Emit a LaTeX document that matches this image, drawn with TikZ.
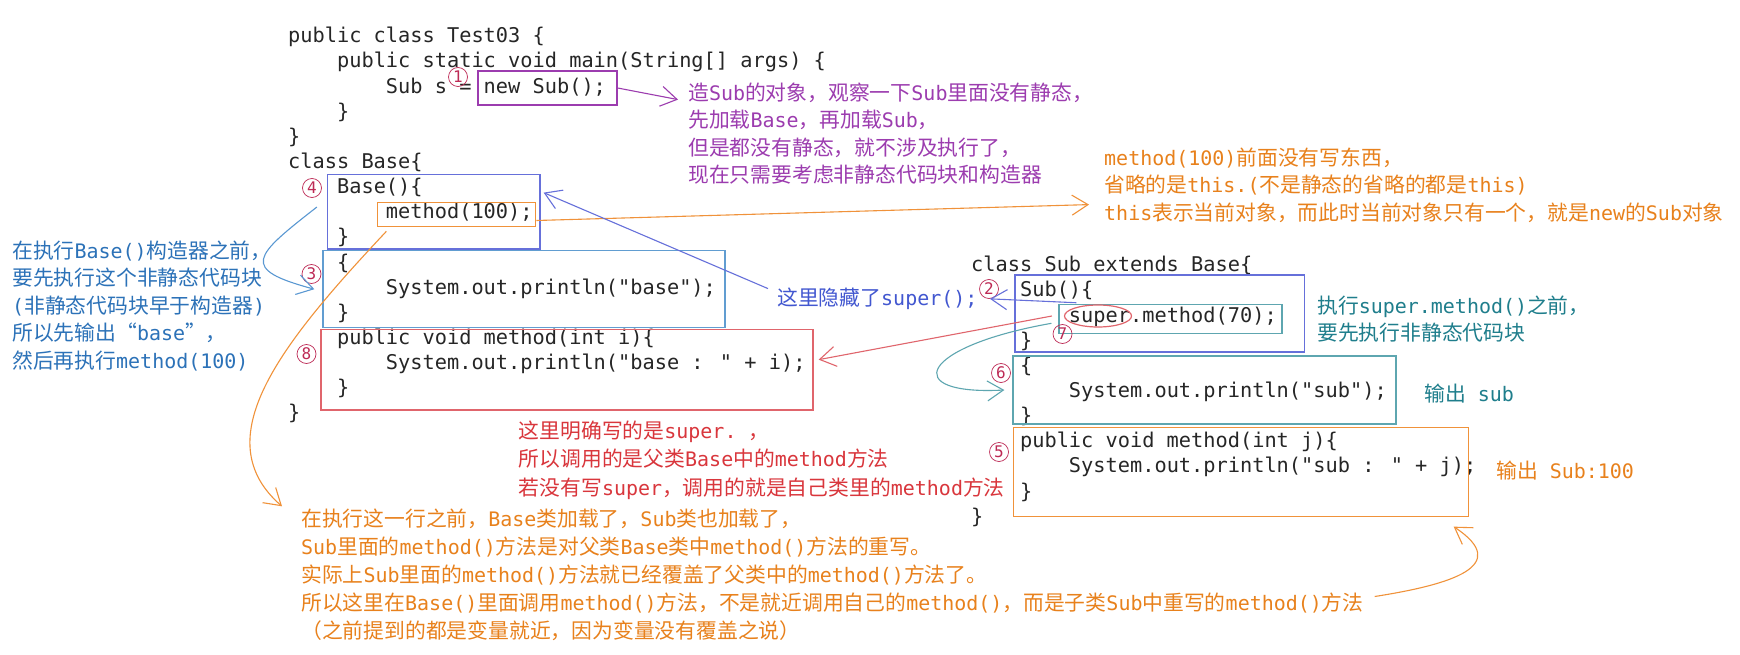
\documentclass[tikz,border=0pt]{standalone}
\usepackage{fontspec}
\usepackage{xcolor}
\usepackage{tikz}
\usetikzlibrary{arrows.meta,shapes.geometric,fit}
\newfontfamily\codefont{DejaVu Sans Mono}
\newfontfamily\latfont{DejaVu Sans Mono}[Scale=0.96]
\newfontfamily\zhfont{Noto Sans CJK SC}
\definecolor{codeink}{HTML}{262626}
\definecolor{purp}{HTML}{9C3CAF}
\definecolor{ctorblue}{HTML}{6670DA}
\definecolor{hidblue}{HTML}{4257D0}
\definecolor{stlblue}{HTML}{619DD1}
\definecolor{leftblue}{HTML}{2C72B8}
\definecolor{leftline}{HTML}{5A98D2}
\definecolor{orng}{HTML}{F0923A}
\definecolor{orngtext}{HTML}{E8811C}
\definecolor{redline}{HTML}{E0656C}
\definecolor{redtext}{HTML}{D9363C}
\definecolor{tealline}{HTML}{5EA6B0}
\definecolor{tealtext}{HTML}{1F7E8C}
\definecolor{numred}{HTML}{BD2A55}
\newcommand{\ind}{\phantom{0000}}
\newcommand{\kw}[1]{{\latfont #1}}
\tikzset{
  code/.style={anchor=north west,inner sep=0pt,align=left,text=codeink,
               font=\codefont\fontsize{20.3}{25.15}\selectfont},
  remark/.style={anchor=north west,inner sep=0pt,align=left,
                 font=\zhfont\fontsize{20.8}{27.5}\selectfont},
  codebox/.style={draw=#1,line width=1.3pt,inner sep=0pt},
  num/.style={circle,draw=numred,line width=0.7pt,inner sep=0pt,minimum size=19pt,
              text=numred,font=\codefont\fontsize{16}{16}\selectfont},
  pointer/.style={draw=#1,line width=1.1pt,-{Straight Barb[length=16pt,width=20pt]}},
}
\begin{document}
\begin{tikzpicture}[x=1pt,y=-1pt]
\path[use as bounding box,fill=white] (0,0) rectangle (1740,655);

% source code
\node[code] (mainsrc) at (288,24.9) {\strut public class Test03 \{\\
\ind public static void main(String[] args) \{\\
\ind\ind Sub s = new Sub();\\
\ind \}\\
\}\\
class Base\{\\
\ind Base()\{\\
\ind\ind method(100);\\
\ind \}\\
\ind \{\\
\ind\ind System.out.println("base");\\
\ind \}\\
\ind public void method(int i)\{\\
\ind\ind System.out.println("base : " + i);\\
\ind \}\\
\}};
\node[code] (subsrc) at (971,253.9) {\strut class Sub extends Base\{\\
\ind Sub()\{\\
\ind\ind super.method(70);\\
\ind \}\\
\ind \{\\
\ind\ind System.out.println("sub");\\
\ind \}\\
\ind public void method(int j)\{\\
\ind\ind System.out.println("sub : " + j);\\
\ind \}\\
\}};

% boxes round the code
\node[codebox=purp,fit={(478,71) (617,105)}] (newbox) {};
\node[codebox=ctorblue,fit={(327.5,174.3) (540,249)}] (basector) {};
\node[codebox=orng,fit={(377.5,202.3) (535.7,226.7)}] (methodbox) {};
\node[codebox=stlblue,fit={(323,250.7) (725,327.7)}] (baseblock) {};
\node[codebox=redline,fit={(321,329.3) (813,410)}] (basemethod) {};
\node[codebox=ctorblue,fit={(1015,275) (1304.6,352)}] (subctor) {};
\node[codebox=tealline,line width=1.1pt,fit={(1059,304.3) (1282,333.3)}] (superbox) {};
\node[ellipse,draw=redline,line width=1.2pt,inner sep=0pt,minimum width=67pt,minimum height=22pt] (superoval) at (1098,316) {};
\node[codebox=tealline,fit={(1013,356) (1396,424)}] (subblock) {};
\node[codebox=orng,fit={(1013.6,427.7) (1468.6,516.7)}] (submethod) {};

% order of execution
\node[num] (n1) at (458,77) {1};
\node[num] (n2) at (989,289) {2};
\node[num] (n3) at (311.5,274) {3};
\node[num] (n4) at (312,188) {4};
\node[num] (n5) at (999,452) {5};
\node[num] (n6) at (1001,373) {6};
\node[num] (n7) at (1062.5,334) {7};
\node[num] (n8) at (306.5,354) {8};

% remarks
\node[remark,text=purp] (notenew) at (688,80.6) {\strut 造\kw{Sub}的对象，观察一下\kw{Sub}里面没有静态，\\
先加载\kw{Base}，再加载\kw{Sub}，\\
但是都没有静态，就不涉及执行了，\\
现在只需要考虑非静态代码块和构造器};
\node[remark,text=orngtext] (notethis) at (1104,145.6) {\strut \kw{method(100)}前面没有写东西，\\
省略的是\kw{this.(}不是静态的省略的都是\kw{this)}\\
\kw{this}表示当前对象，而此时当前对象只有一个，就是\kw{new}的\kw{Sub}对象};
\node[remark,text=leftblue] (notebefore) at (12,238.6) {\strut 在执行\kw{Base()}构造器之前，\\
要先执行这个非静态代码块\\
\kw{(}非静态代码块早于构造器\kw{)}\\
所以先输出“\kw{base}”，\\
然后再执行\kw{method(100)}};
\node[remark,text=hidblue] (notesuper) at (777,285.6) {\strut 这里隐藏了\kw{super();}};
\node[remark,text=tealtext] (notesub) at (1317,293.6) {\strut 执行\kw{super.method()}之前，\\
要先执行非静态代码块};
\node[remark,text=tealtext] (outsub) at (1424,381.6) {\strut 输出\kw{~sub}};
\node[remark,text=orngtext] (outsub100) at (1496,458.6) {\strut 输出\kw{~Sub:100}};
\node[remark,text=redtext,font=\zhfont\fontsize{20.8}{28.5}\selectfont] (noteexplicit) at (518.6,418) {\strut 这里明确写的是\kw{super.~}，\\
所以调用的是父类\kw{Base}中的\kw{method}方法\\
若没有写\kw{super}，调用的就是自己类里的\kw{method}方法};
\node[remark,text=orngtext,font=\zhfont\fontsize{20.8}{28}\selectfont] (noteoverride) at (301,506.3) {\strut 在执行这一行之前，\kw{Base}类加载了，\kw{Sub}类也加载了，\\
\kw{Sub}里面的\kw{method()}方法是对父类\kw{Base}类中\kw{method()}方法的重写。\\
实际上\kw{Sub}里面的\kw{method()}方法就已经覆盖了父类中的\kw{method()}方法了。\\
所以这里在\kw{Base()}里面调用\kw{method()}方法，不是就近调用自己的\kw{method()}，而是子类\kw{Sub}中重写的\kw{method()}方法\\
（之前提到的都是变量就近，因为变量没有覆盖之说）\strut};

% arrows
\draw[pointer=purp] (newbox.east) -- ([xshift=-10pt,yshift=-19pt]notenew.north west);
\draw[pointer=orng] ([yshift=-6pt]methodbox.east) -- ([xshift=-15pt,yshift=-59pt]notethis.north west);
\draw[pointer=ctorblue] ([xshift=-9pt,yshift=-3pt]notesuper.north west) -- ([xshift=3pt,yshift=19pt]basector.east);
\draw[pointer=ctorblue] ([xshift=18pt,yshift=1pt]superbox.north west) -- ([xshift=1pt]n2.south);
\draw[pointer=redline] ([xshift=-12pt]superoval.west) -- ([xshift=5pt,yshift=10pt]basemethod.east);
\draw[pointer=tealline] ([xshift=-7pt,yshift=-4.5pt]superbox.west) .. controls +(190:135pt) and +(183:105pt) .. ([xshift=-8pt]subblock.west);
\draw[pointer=leftline] ([xshift=-10pt,yshift=4.6pt]basector.west) .. controls +(218:80pt) and +(165:78pt) .. ([xshift=-8pt]baseblock.west);
\draw[pointer=orng] ([xshift=9.5pt,yshift=-4pt]methodbox.south west) .. controls +(226.8:156pt) and +(139:102pt) .. ([xshift=-19pt]noteoverride.north west);
\draw[pointer=orng] ([xshift=11pt,yshift=-20pt]noteoverride.east) .. controls +(8.9:78pt) and +(-33.5:70.7pt) .. ([xshift=-15.6pt,yshift=-9.3pt]submethod.south east);
\end{tikzpicture}
\end{document}
